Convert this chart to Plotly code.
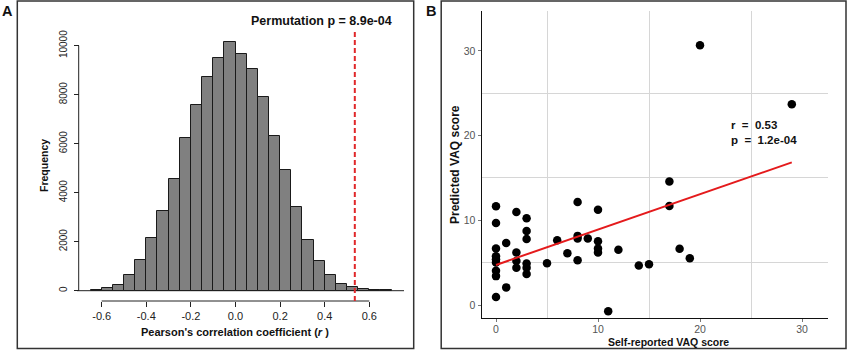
import numpy as np
import plotly.graph_objects as go

# ---------------- Panel A data (permutation histogram) ----------------
bin_left = [-0.65, -0.60, -0.55, -0.50, -0.45, -0.40, -0.35, -0.30, -0.25,
            -0.20, -0.15, -0.10, -0.05, 0.00, 0.05, 0.10, 0.15, 0.20, 0.25,
            0.30, 0.35, 0.40, 0.45, 0.50, 0.55, 0.60, 0.65]
bin_width = 0.05
freq = [30, 110, 245, 626, 1238, 2136, 3252, 4571, 6233, 7580, 8722, 9498,
        10139, 9674, 9037, 7918, 6327, 4914, 3401, 2082, 1224, 653, 272,
        136, 54, 27, 10]
observed_r = 0.535
perm_label = "Permutation p = 8.9e-04"
hist_xticks = [-0.6, -0.4, -0.2, 0.0, 0.2, 0.4, 0.6]
hist_xticklabels = ["-0.6", "-0.4", "-0.2", "0.0", "0.2", "0.4", "0.6"]
hist_yticks = [0, 2000, 4000, 6000, 8000, 10000]
hist_yticklabels = ["0", "2000", "4000", "6000", "8000", "10000"]
hist_xtitle = "Pearson's correlation coefficient (<i>r</i> )"
hist_ytitle = "Frequency"

# ---------------- Panel B data (scatter) ----------------
self_reported = [0, 0, 0, 0, 0, 0, 0, 0, 0,
                 1, 1,
                 2, 2, 2, 2,
                 3, 3, 3, 3, 3, 3,
                 5, 6, 7,
                 8, 8, 8, 8,
                 9,
                 10, 10, 10, 10,
                 11, 12, 14, 15,
                 17, 17, 18, 19, 20, 29]
predicted = [11.65, 9.69, 6.67, 5.76, 5.41, 5.02, 4.04, 3.41, 0.94,
             7.33, 2.08,
             10.98, 6.20, 5.20, 4.39,
             10.24, 8.75, 7.80, 4.90, 4.39, 3.65,
             4.94, 7.65, 6.12,
             12.16, 8.16, 7.84, 5.29,
             7.84,
             11.25, 7.53, 6.67, 6.20,
             -0.75, 6.51, 4.67, 4.82,
             14.59, 11.69, 6.63, 5.53, 30.66, 23.70]
scatter_ticks = [0, 10, 20, 30]
grid_vals = [5, 15, 25]
stat_label = "r\u00a0 =\u00a0 0.53<br>p\u00a0 =\u00a0 1.2e-04"
scatter_xtitle = "Self-reported VAQ score"
scatter_ytitle = "Predicted VAQ score"

W, H = 850, 350


def px(x):
    return x / W


def py(y):
    return 1 - y / H


FONT = "Liberation Sans, Arial, sans-serif"

fig = go.Figure()

# Histogram bars
centers = [b + bin_width / 2 for b in bin_left]
fig.add_trace(go.Bar(
    x=centers, y=freq, width=bin_width,
    marker=dict(color="#808080", line=dict(color="#1a1a1a", width=1)),
    xaxis="x", yaxis="y", showlegend=False, hoverinfo="skip"))

# Scatter points
fig.add_trace(go.Scatter(
    x=self_reported, y=predicted, mode="markers",
    marker=dict(color="black", size=8.5),
    xaxis="x2", yaxis="y2", showlegend=False, hoverinfo="skip"))

# Regression line
xs = np.array(self_reported, dtype=float)
ys = np.array(predicted, dtype=float)
slope, intercept = np.polyfit(xs, ys, 1)
lx = np.array([xs.min(), xs.max()])
fig.add_trace(go.Scatter(
    x=lx, y=intercept + slope * lx, mode="lines",
    line=dict(color="#e41a1c", width=2),
    xaxis="x2", yaxis="y2", showlegend=False, hoverinfo="skip"))

# ---- Panel A axes: 0 count at y=290.7px, 24.5 px per 1000; r=0 at x=235.5px, 223 px per unit
xa_dom = (60, 410)
ya_dom = (15, 340)
x0px, xscale = 235.5, 223.0
y0px, yscale = 290.7, 24.5 / 1000
xaxis_pos_px = 301
yaxis_pos_px = 78.7

fig.update_layout(
    xaxis=dict(
        domain=[px(xa_dom[0]), px(xa_dom[1])],
        range=[(xa_dom[0] - x0px) / xscale, (xa_dom[1] - x0px) / xscale],
        anchor="free", position=py(xaxis_pos_px),
        showline=False, showgrid=False, zeroline=False,
        tickmode="array", tickvals=hist_xticks, ticktext=hist_xticklabels,
        ticks="outside", ticklen=5, tickcolor="#222", tickwidth=1,
        tickfont=dict(family=FONT, size=11, color="#222"),
    ),
    yaxis=dict(
        domain=[py(ya_dom[1]), py(ya_dom[0])],
        range=[(y0px - ya_dom[1]) / yscale, (y0px - ya_dom[0]) / yscale],
        anchor="free", position=px(yaxis_pos_px),
        showline=False, showgrid=False, zeroline=False,
        tickmode="array", tickvals=hist_yticks, ticktext=hist_yticklabels,
        ticks="outside", ticklen=5, tickcolor="#222", tickwidth=1,
        tickangle=-90, ticklabelstandoff=3,
        tickfont=dict(family=FONT, size=10, color="#222"),
    ),
)

# ---- Panel B axes
xb_dom = (481.7, 828.3)
yb_dom = (10.7, 318.3)
bx0, bxs = 496.0, 10.2
by0, bys = 305.0, 8.47
fig.update_layout(
    xaxis2=dict(
        domain=[px(xb_dom[0]), px(xb_dom[1])],
        range=[(xb_dom[0] - bx0) / bxs, (xb_dom[1] - bx0) / bxs],
        anchor="y2", showline=True, linecolor="#111", linewidth=1.3,
        showgrid=False, zeroline=False,
        tickmode="array", tickvals=scatter_ticks,
        ticks="outside", ticklen=3, tickcolor="#777",
        ticklabelstandoff=-2,
        tickfont=dict(family=FONT, size=10.5, color="#555555"),
        minor=dict(tickmode="array", tickvals=grid_vals, showgrid=True,
                   gridcolor="#d6d6d6", gridwidth=1, ticks=""),
    ),
    yaxis2=dict(
        domain=[py(yb_dom[1]), py(yb_dom[0])],
        range=[(by0 - yb_dom[1]) / bys, (by0 - yb_dom[0]) / bys],
        anchor="x2", showline=True, linecolor="#111", linewidth=1.3,
        showgrid=False, zeroline=False,
        tickmode="array", tickvals=scatter_ticks,
        ticks="outside", ticklen=3, tickcolor="#777",
        tickfont=dict(family=FONT, size=10.5, color="#555555"),
        minor=dict(tickmode="array", tickvals=grid_vals, showgrid=True,
                   gridcolor="#d6d6d6", gridwidth=1, ticks=""),
    ),
)

shapes = []
# Panel borders
shapes.append(dict(type="rect", xref="paper", yref="paper",
                   x0=px(17.3), x1=px(413.7), y0=py(348.5), y1=py(1),
                   line=dict(color="#333", width=1.5)))
shapes.append(dict(type="rect", xref="paper", yref="paper",
                   x0=px(441.2), x1=px(846), y0=py(348.5), y1=py(1),
                   line=dict(color="#333", width=1.5)))
# Panel A R-style axis lines spanning the tick range
shapes.append(dict(type="line", xref="x", yref="paper",
                   x0=min(hist_xticks), x1=max(hist_xticks),
                   y0=py(xaxis_pos_px), y1=py(xaxis_pos_px),
                   line=dict(color="#222", width=1)))
shapes.append(dict(type="line", xref="paper", yref="y",
                   x0=px(yaxis_pos_px), x1=px(yaxis_pos_px),
                   y0=min(hist_yticks), y1=max(hist_yticks),
                   line=dict(color="#222", width=1)))
# baseline under histogram
shapes.append(dict(type="line", xref="paper", yref="y",
                   x0=px(77), x1=px(404), y0=0, y1=0,
                   line=dict(color="#222", width=1)))
# observed r dashed line
shapes.append(dict(type="line", xref="x", yref="paper",
                   x0=observed_r, x1=observed_r,
                   y0=py(xaxis_pos_px), y1=py(32),
                   line=dict(color="#e0282a", width=2, dash="5px,3px")))


def ann(text, x, y, size=11, angle=0, xanchor="center"):
    return dict(text=text, x=px(x), y=py(y), xref="paper", yref="paper",
                showarrow=False, xanchor=xanchor, yanchor="middle",
                textangle=angle, align="left",
                font=dict(family=FONT, size=size, color="#111"))


annotations = [
    ann("<b>A</b>", 7.5, 10.5, size=14.5),
    ann("<b>B</b>", 430.5, 10.5, size=14.5),
    ann("<b>" + perm_label + "</b>", 321, 21.5, size=12.5),
    ann("<b>" + hist_xtitle + "</b>", 235, 332.3),
    ann("<b>" + hist_ytitle + "</b>", 44, 166, size=10.5, angle=-90),
    ann("<b>" + scatter_xtitle + "</b>", 668, 341.5, size=10.5),
    ann("<b>" + scatter_ytitle + "</b>", 455, 165, size=12, angle=-90),
    ann("<b>" + stat_label + "</b>", 729, 132, size=11.5, xanchor="left"),
]

fig.update_layout(
    template="none",
    width=W, height=H, autosize=False,
    margin=dict(l=0, r=0, t=0, b=0, pad=0),
    paper_bgcolor="white", plot_bgcolor="rgba(0,0,0,0)",
    bargap=0, shapes=shapes, annotations=annotations,
    font=dict(family=FONT),
)

fig.write_html("out.html",
               config={"displayModeBar": False},
               post_script="document.body.style.margin='0';")
